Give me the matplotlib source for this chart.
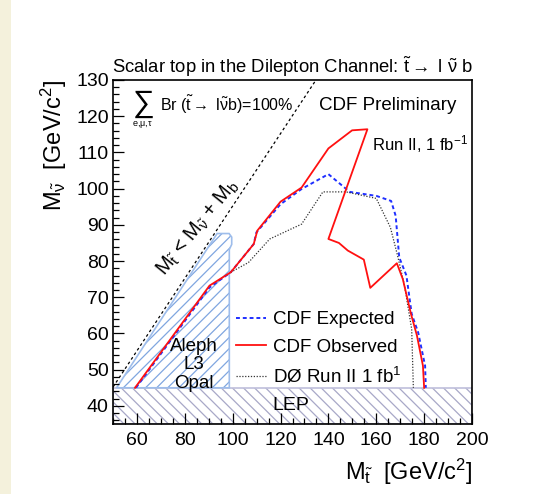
import matplotlib
matplotlib.use('Agg')
import matplotlib.pyplot as plt
from matplotlib.patches import Polygon, Rectangle
from matplotlib.ticker import MultipleLocator

plt.rcParams['font.family'] = ['Liberation Sans', 'DejaVu Sans']
plt.rcParams['mathtext.fontset'] = 'custom'
plt.rcParams['mathtext.rm'] = 'Liberation Sans'
plt.rcParams['mathtext.it'] = 'Liberation Sans'
plt.rcParams['mathtext.bf'] = 'Liberation Sans:bold'
plt.rcParams['hatch.linewidth'] = 0.9

# ---------------- data ----------------
exp_mt = [59.6, 90.3, 99.2, 108.8, 109.9, 120.0, 128.8, 140.0, 148.9, 160.0,
          166.2, 168.1, 169.6, 172.6, 174.8, 177.5, 180.4, 180.7]
exp_mnu = [45.0, 72.7, 76.9, 84.7, 87.9, 95.7, 99.9, 104.0, 99.1, 98.0,
           96.6, 92.5, 81.0, 76.0, 65.4, 60.3, 51.1, 45.0]

obs_mt = [59.2, 90.3, 99.2, 108.8, 110.3, 120.0, 128.8, 140.0, 149.9, 156.3,
          140.0, 144.4, 148.1, 154.8, 157.5, 168.6, 171.1, 174.5, 177.0, 179.5, 180.0]
obs_mnu = [45.0, 73.2, 76.9, 84.7, 88.4, 96.4, 100.3, 111.1, 116.1, 116.4,
           86.1, 85.0, 82.9, 80.4, 72.6, 79.4, 75.0, 65.4, 59.4, 51.1, 45.0]

d0_mt = [99.2, 106.6, 115.5, 128.8, 137.7, 147.4, 160.0, 165.9, 168.9, 171.8, 174.8, 175.5]
d0_mnu = [76.9, 79.6, 86.1, 90.2, 99.1, 99.1, 97.3, 89.3, 81.5, 73.2, 61.2, 45.0]

# LEP excluded band
lep_mnu_min, lep_mnu_max = 35.0, 45.0
# Aleph/L3/Opal excluded region boundary
lep2_mt = [51.5, 93.5, 98.5, 99.6, 99.6, 98.6, 98.6]
lep2_mnu = [45.0, 87.6, 87.6, 86.6, 84.6, 83.2, 45.0]
# kinematic limit M_stop = M_snu + M_b
kin_mt = [50.0, 134.8]
kin_mnu = [45.2, 130.0]

xticks = [60, 80, 100, 120, 140, 160, 180, 200]
yticks = [40, 50, 60, 70, 80, 90, 100, 110, 120, 130]

# ---------------- figure ----------------
fig = plt.figure(figsize=(5.56, 4.94), dpi=100)
fig.add_artist(Rectangle((0, 0), 11 / 556, 1, transform=fig.transFigure,
                         facecolor='#f4f1dc', edgecolor='none'))
ax = fig.add_axes([113 / 556, 1 - 424 / 494, 359 / 556, 344 / 494])
ax.set_xlim(50, 200)
ax.set_ylim(35, 130)

# LEP band
ax.fill_between([50, 200], lep_mnu_min, lep_mnu_max, facecolor='white',
                edgecolor=(0.66, 0.66, 0.78), hatch='\\\\\\', linewidth=0, zorder=1)
ax.add_patch(Rectangle((50, lep_mnu_min), 150, lep_mnu_max - lep_mnu_min,
                       facecolor='none', edgecolor=(0.75, 0.75, 0.86), lw=1.2, zorder=1.1))

# Aleph / L3 / Opal region
pts = list(zip(lep2_mt, lep2_mnu))
ax.add_patch(Polygon(pts, closed=True, facecolor='white', edgecolor=(0.50, 0.65, 0.88),
                     hatch='///', linewidth=0, zorder=1))
ax.add_patch(Polygon(pts, closed=True, facecolor='none', edgecolor=(0.62, 0.74, 0.92),
                     linewidth=1.2, zorder=1.1))

# kinematic line
ax.plot(kin_mt, kin_mnu, color='black', lw=0.9, ls=(0, (2.2, 2.2)), zorder=2)

# curves
l_exp, = ax.plot(exp_mt, exp_mnu, color='#1f2fff', lw=1.4, ls=(0, (2.0, 1.5)), zorder=3,
                 label='CDF Expected')
l_obs, = ax.plot(obs_mt, obs_mnu, color='#ff1010', lw=1.3, zorder=4, label='CDF Observed')
l_d0, = ax.plot(d0_mt, d0_mnu, color='#333333', lw=0.9, ls=(0, (1, 1.3)), zorder=3,
                label=r'DØ Run II 1 fb$^{1}$')

leg = ax.legend(handles=[l_exp, l_obs, l_d0], loc='upper left', bbox_to_anchor=(0.322, 0.35),
                frameon=False, fontsize=13.5, handlelength=1.6, handletextpad=0.35,
                labelspacing=0.57, borderaxespad=0)

# texts
ax.text(84.0, 51.3, 'Aleph\nL3\nOpal', ha='center', va='center', fontsize=13.5,
        linespacing=1.1, zorder=5)
ax.text(124.5, 40.2, 'LEP', ha='center', va='center', fontsize=14, zorder=5)
ax.text(164.9, 123.0, 'CDF Preliminary', ha='center', va='center', fontsize=13.5)
ax.text(178.3, 112.4, r'Run II, 1 fb$^{-1}$', ha='center', va='center', fontsize=12)
ax.text(62.3, 123.3, r'$\sum$', ha='center', va='center', fontsize=22)
ax.text(62.3, 117.6, r'e,$\mu$,$\tau$', ha='center', va='center', fontsize=6.5)
ax.text(69.5, 123.0, r'Br ($\tilde{\rm t}$$\rightarrow$ l$\tilde{\nu}$b)=100%',
        ha='left', va='center', fontsize=11.5)
ax.text(85.3, 89.3, r'M$_{\tilde{\rm t}}$ < M$_{\tilde{\nu}}$ + M$_{\rm b}$',
        ha='center', va='center', rotation=51, fontsize=14.5)

ax.set_title(r'Scalar top in the Dilepton Channel: $\tilde{\rm t}\rightarrow$ l $\tilde{\nu}$ b',
             fontsize=13.3, pad=5)

ax.set_xlabel(r'M$_{\tilde{\rm t}}$  [GeV/c$^{2}$]', fontsize=17, loc='right')
ax.xaxis.set_label_coords(1.0, -0.095)
ax.set_ylabel(r'M$_{\tilde{\nu}}$  [GeV/c$^{2}$]', fontsize=17, loc='top')
ax.yaxis.set_label_coords(-0.122, 1.0)

ax.set_xticks(xticks)
ax.set_yticks(yticks)
ax.xaxis.set_minor_locator(MultipleLocator(5))
ax.yaxis.set_minor_locator(MultipleLocator(2))
ax.tick_params(which='both', direction='in', top=False, right=False, width=0.9,
               labelsize=14)
ax.tick_params(which='major', length=8)
ax.tick_params(which='minor', length=4)
ax.tick_params(axis='x', pad=6)
ax.tick_params(axis='y', pad=3)
for s in ax.spines.values():
    s.set_linewidth(1.2)

fig.savefig('out.png', dpi=100)
